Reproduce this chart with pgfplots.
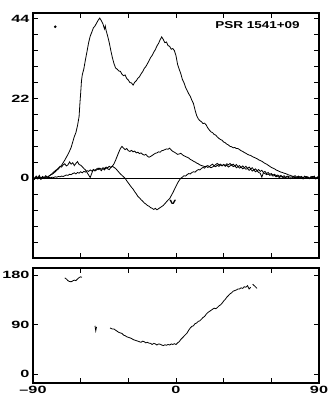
\documentclass[border=0pt]{standalone}
\usepackage{fontspec}
\setmainfont{Liberation Sans}
\newfontfamily\tickfont{Liberation Sans Bold}[FakeStretch=1.55]
\newfontfamily\labfont{Liberation Sans Bold}[FakeStretch=1.35]
\usepackage{pgfplots}
\pgfplotsset{compat=1.18}

\pgfplotsset{
  panel/.style={
    scale only axis,
    width=286pt,
    xmin=-90, xmax=90,
    xtick={-90,-60,-30,0,30,60,90},
    tick align=inside,
    axis line style={line width=1.1pt},
    major tick length=5pt,
    minor tick length=5pt,
    every tick/.style={black, line width=0.9pt},
    tick label style={font=\tickfont\fontsize{10.5}{12}\selectfont},
  },
  trace/.style={black, line width=0.8pt, mark=none},
}

\begin{document}
\begin{tikzpicture}
\useasboundingbox (0pt,0pt) rectangle (334pt,-409pt);

% upper panel: I, L, V
\begin{axis}[panel,
  height=245pt,
  at={(33pt,-258pt)}, anchor=south west,
  ymin=-22, ymax=45.6,
  ytick={0,22,44},
  yticklabels={0,22,44},
  minor ytick={-17.6,-13.2,-8.8,-4.4,4.4,8.8,13.2,17.6,26.4,30.8,35.2,39.6},
  xticklabels={},
]
\addplot[black, line width=0.5pt] coordinates {(-90,0)(90,0)};

% total intensity
\addplot[trace] coordinates {
(-90,0.4)(-89,-0.3)(-88,0.6)(-87,0.1)(-86,0.8)(-85,-0.2)(-84,0.5)(-83,0.2)(-82,0.7)(-81,0.3)(-80,0.6)(-79,0.9)(-78,1.1)(-77,1.4)(-76,1.8)(-75,2.2)(-74,2.6)(-73,3.1)(-72,3.6)(-71,4.3)(-70,5.0)(-69,5.8)(-68,6.6)(-67,7.5)(-66,8.5)(-65,10.0)(-64,11.5)(-63,12.6)(-62,14.5)(-61,17.0)(-60.5,20.5)(-60,23.5)(-59.5,26.8)(-59,28.5)(-58,30.2)(-57,32.7)(-56,35.0)(-55,37.4)(-54,39.2)(-53,40.3)(-52,41.5)(-51,42.0)(-50,42.8)(-49,43.6)(-48,44.2)(-47,43.5)(-46,42.6)(-45,41.2)(-44.5,42.0)(-44,40.8)(-43,39.2)(-42,37.4)(-41,35.2)(-40,33.2)(-39,31.6)(-38,30.4)(-37,30.1)(-36,29.6)(-35,29.5)(-34,28.7)(-33,28.3)(-32,28.5)(-31,27.5)(-30,27.1)(-29,26.4)(-28,26.3)(-27,25.7)(-26,26.5)(-25,26.9)(-24,27.6)(-23,28.0)(-22,28.8)(-21,29.4)(-20,30.3)(-19,30.8)(-18,31.6)(-17,32.4)(-16,33.3)(-15,33.9)(-14,34.8)(-13,35.5)(-12,36.5)(-11,37.2)(-10,38.2)(-9,39.0)(-8,38.3)(-7,37.4)(-6,37.6)(-5,36.6)(-4,36.4)(-3,35.6)(-2,35.8)(-1,35.2)(0,33.8)(1,31.4)(2,30.1)(3,28.9)(4,27.3)(5,26.4)(6,25.1)(7,24.2)(8,23.3)(9,22.6)(10,21.5)(11,20.6)(12,18.8)(13,17.3)(14,16.4)(15,15.9)(16,15.6)(17,15.1)(18,15.2)(19,14.7)(20,13.9)(21,13.3)(22,12.8)(23,12.6)(24,12.1)(25,11.9)(26,11.4)(27,11.0)(28,10.7)(29,10.5)(30,10.0)(31,9.8)(32,9.4)(33,9.2)(34,8.8)(35,8.7)(36,8.4)(37,8.5)(38,8.2)(39,8.2)(40,7.9)(41,7.6)(42,7.4)(43,7.1)(44,6.9)(45,6.6)(46,6.4)(47,6.3)(48,6.0)(49,5.8)(50,5.6)(51,5.4)(52,5.1)(53,4.9)(54,4.7)(55,4.4)(56,4.1)(57,3.9)(58,3.6)(59,3.3)(60,3.0)(61,2.8)(62,2.6)(63,2.3)(64,2.1)(65,1.9)(66,1.7)(67,1.6)(68,1.4)(69,1.3)(70,1.1)(71,0.9)(72,0.8)(73,0.6)(74,0.5)(75,0.7)(76,0.3)(77,0.6)(78,0.2)(79,0.5)(80,0.1)(81,0.6)(82,0.2)(83,0.4)(84,-0.1)(85,0.5)(86,0.2)(87,0.6)(88,-0.2)(89,0.4)(90,0.1)
};

% linear polarization
\addplot[trace] coordinates {
(-90,0.3)(-89,-0.2)(-88,0.5)(-87,0.0)(-86,0.4)(-85,-0.3)(-84,0.3)(-83,0.1)(-82,0.4)(-81,0.2)(-80,0.6)(-79,0.9)(-78,1.3)(-77,1.7)(-76,2.1)(-75,2.4)(-74,2.8)(-73,3.3)(-72,3.1)(-71,3.7)(-70,4.0)(-69,3.4)(-68,3.7)(-67,4.5)(-66,3.9)(-65,4.3)(-64,3.5)(-63,4.1)(-62,4.6)(-61,3.8)(-60,3.6)(-59,3.2)(-58,2.7)(-57,2.3)(-56,1.6)(-55,0.9)(-54,0.2)(-53,1.4)(-52,2.4)(-51,2.0)(-50,2.3)(-49,2.8)(-48,2.5)(-47,2.1)(-46,2.7)(-45,2.3)(-44,2.9)(-43,2.6)(-42,2.4)(-41,3.0)(-40,3.4)(-39,4.0)(-38,5.0)(-37,6.1)(-36,7.2)(-35,8.2)(-34,8.8)(-33,8.3)(-32,7.9)(-31,8.2)(-30,7.6)(-29,7.4)(-28,7.7)(-27,7.3)(-26,7.5)(-25,7.0)(-24,7.2)(-23,6.8)(-22,7.0)(-21,6.6)(-20,6.4)(-19,6.6)(-18,6.1)(-17,5.8)(-16,6.0)(-15,6.3)(-14,6.6)(-13,6.9)(-12,7.0)(-11,7.3)(-10,7.2)(-9,7.6)(-8,7.7)(-7,7.9)(-6,8.1)(-5,8.0)(-4,8.3)(-3,7.8)(-2,7.4)(-1,7.2)(0,6.9)(1,6.6)(2,6.7)(3,6.9)(4,6.5)(5,6.2)(6,6.0)(7,5.8)(8,5.6)(9,5.2)(10,5.0)(11,4.7)(12,4.5)(13,4.2)(14,4.0)(15,3.7)(16,3.5)(17,3.4)(18,3.2)(19,3.3)(20,3.0)(21,3.2)(22,2.9)(23,3.1)(24,3.4)(25,3.2)(26,3.6)(27,3.3)(28,3.7)(29,3.4)(30,3.8)(31,3.5)(32,4.0)(33,3.7)(34,4.1)(35,3.6)(36,3.9)(37,3.4)(38,3.8)(39,3.2)(40,3.5)(41,3.0)(42,3.4)(43,2.9)(44,3.3)(45,2.7)(46,3.1)(47,2.6)(48,2.9)(49,2.3)(50,2.6)(51,2.1)(52,2.4)(53,1.9)(54,2.2)(55,1.6)(56,1.9)(57,1.3)(58,1.6)(59,1.1)(60,1.3)(61,0.9)(62,1.1)(63,0.7)(64,0.9)(65,0.5)(66,0.8)(67,0.4)(68,0.7)(69,0.2)(70,0.6)(72,0.3)(74,0.5)(76,0.1)(78,0.4)(80,0.2)(82,0.5)(84,0.0)(86,0.4)(88,0.1)(90,0.3)
};

% circular polarization
\addplot[trace] coordinates {
(-90,0.5)(-89,0.0)(-88,0.4)(-87,-0.2)(-86,0.3)(-85,0.1)(-84,0.4)(-83,-0.1)(-82,0.2)(-81,0.0)(-80,0.3)(-79,0.1)(-78,0.3)(-77,0.2)(-76,0.4)(-75,0.3)(-74,0.5)(-73,0.4)(-72,0.6)(-71,0.5)(-70,0.7)(-69,0.9)(-68,0.8)(-67,1.1)(-66,1.0)(-65,1.3)(-64,1.5)(-63,1.2)(-62,1.6)(-61,1.4)(-60,1.8)(-59,1.5)(-58,1.9)(-57,1.7)(-56,2.1)(-55,1.9)(-54,2.3)(-53,2.0)(-52,2.4)(-51,2.2)(-50,2.6)(-49,2.4)(-48,2.8)(-47,2.5)(-46,2.9)(-45,2.7)(-44,3.1)(-43,2.9)(-42,3.3)(-41,3.0)(-40,3.3)(-39,3.0)(-38,2.7)(-37,2.2)(-36,1.7)(-35,1.2)(-34,0.8)(-33,0.4)(-32,0.0)(-31,-0.7)(-30,-1.3)(-29,-1.9)(-28,-2.5)(-27,-3.0)(-26,-3.7)(-25,-4.3)(-24,-5.0)(-23,-5.4)(-22,-5.9)(-21,-6.3)(-20,-6.8)(-19,-7.1)(-18,-7.5)(-17,-7.7)(-16,-8.1)(-15,-8.3)(-14,-8.6)(-13,-8.3)(-12,-8.7)(-11,-8.4)(-10,-8.1)(-9,-7.8)(-8,-7.5)(-7,-7.0)(-6,-6.5)(-5,-6.0)(-4,-5.6)(-3,-4.8)(-2,-4.0)(-1,-3.1)(0,-2.2)(1,-1.3)(2,-0.6)(3,0.0)(4,0.3)(5,0.7)(6,0.6)(7,1.0)(8,1.3)(9,1.2)(10,1.6)(11,1.8)(12,1.7)(13,2.1)(14,2.4)(15,2.3)(16,2.7)(17,3.0)(18,2.8)(19,3.3)(20,3.5)(21,3.2)(22,3.6)(23,3.9)(24,3.4)(25,3.8)(26,4.1)(27,3.7)(28,3.9)(29,3.5)(30,3.8)(31,3.3)(32,3.6)(33,3.1)(34,3.4)(35,3.7)(36,3.2)(37,3.5)(38,2.9)(39,3.2)(40,2.8)(41,3.1)(42,2.6)(43,2.9)(44,2.5)(45,2.7)(46,2.2)(47,2.5)(48,2.0)(49,2.3)(50,1.8)(51,2.1)(52,1.6)(53,1.4)(54,0.3)(55,1.5)(56,1.3)(57,1.0)(58,1.2)(59,0.8)(60,1.0)(61,0.6)(62,0.8)(63,0.4)(64,0.6)(65,0.2)(66,0.5)(68,0.1)(70,0.4)(72,-0.1)(74,0.3)(76,0.0)(78,0.4)(80,-0.2)(82,0.3)(84,0.0)(86,0.5)(88,-0.1)(90,0.2)
};

\addplot[only marks, mark=*, mark size=1.1pt, black] coordinates {(-76,41.8)};

\node[anchor=east, inner sep=0pt, font=\labfont\fontsize{10}{12}\selectfont] at (axis cs:78,42.2) {PSR 1541+09};
\node[font=\tickfont\fontsize{8}{9}\selectfont] at (axis cs:-2,-6.6) {v};
\end{axis}

% lower panel: position angle
\begin{axis}[panel,
  height=115pt,
  at={(33pt,-383pt)}, anchor=south west,
  ymin=-16, ymax=193,
  ytick={0,90,180},
  yticklabels={0,90,180},
  xticklabels={–90,,,0,,,90},
]
\addplot[trace] coordinates {
(-70,175)(-69,173)(-68,170)(-67,168.5)(-66,168)(-65,169.5)(-64,171)(-63,170)(-62,173)(-61,175.5)(-60,177)(-59.2,176)
};
\addplot[trace] coordinates {(-51,88)(-50.5,79)(-50,86)};
\addplot[trace] coordinates {
(-41.5,84)(-40,82)(-39,82)(-38,80)(-37,78)(-36,76)(-35,75)(-34,74)(-33,71)(-32,70)(-31,68)(-30,67)(-29,66)(-28,65)(-27,63)(-26,62)(-25,61)(-24,60)(-23,59)(-22,58)(-21,60)(-20,59)(-19,57)(-18,58)(-17,56.5)(-16,56)(-15,54)(-14,56)(-13,55)(-12,53)(-11,55)(-10,54.5)(-9,53)(-8,52)(-7,53.5)(-6,52.5)(-5,54)(-4,53)(-3,55)(-2,54)(-1,55.5)(0,54)(1,57)(2,59)(3,63)(4,66)(5,69)(6,72)(7,75)(8,80)(9,84)(10,87)(11,88)(12,92)(13,93)(14,96)(15,97)(16,100)(17,103)(18,105)(19,109)(20,112)(21,114)(22,116)(23,118)(24,120)(25,119)(26,121)(27,124)(28,126)(29,129)(30,133)(31,136)(32,140)(33,143)(34,146)(35,148)(36,151)(37,152)(38,153)(39,155)(40,155)(41,157)(42,156)(43,159)(44,158)(45,161)(46,155)(47,158)
};
\addplot[trace] coordinates {(48.3,163.5)(51,156)};
\end{axis}
\end{tikzpicture}
\end{document}
